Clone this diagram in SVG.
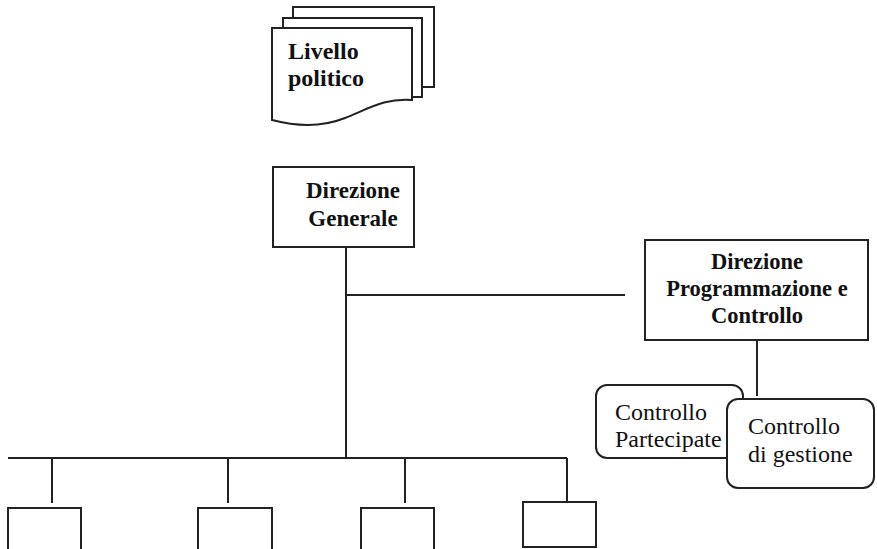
<svg xmlns="http://www.w3.org/2000/svg" width="877" height="549" viewBox="0 0 877 549">
  <style>
    .box { fill: #fff; stroke: #222; stroke-width: 2; }
    .line { fill: none; stroke: #222; stroke-width: 2; }
    .bold { font-family: "Liberation Serif", "Times New Roman", serif; font-weight: bold; fill: #111; }
    .reg { font-family: "Liberation Serif", "Times New Roman", serif; fill: #111; }
  </style>
  <rect width="877" height="549" fill="#fff"/>

  <!-- connectors -->
  <g id="connectors" class="line">
    <line x1="346" y1="247" x2="346" y2="458"/>
    <line x1="346" y1="295" x2="625" y2="295"/>
    <line x1="757" y1="340" x2="757" y2="396"/>
    <line x1="8" y1="458" x2="567" y2="458"/>
    <line x1="52" y1="458" x2="52" y2="503"/>
    <line x1="228" y1="458" x2="228" y2="503"/>
    <line x1="405" y1="458" x2="405" y2="503"/>
    <line x1="567" y1="458" x2="567" y2="502"/>
  </g>

  <!-- stacked multi-document node -->
  <g id="livello-politico">
    <path class="box" d="M293,7 H434 V87 H422 V18 H293 Z"/>
    <path class="box" d="M283,18 H422 V97 H412 V28 H283 Z"/>
    <path class="box" d="M272,28 H412 V100 C385,98 370,108 345,118 C320,128 295,126 272,120 Z"/>
    <text class="bold" font-size="24" x="288" y="59">Livello</text>
    <text class="bold" font-size="24" x="288" y="86">politico</text>
  </g>

  <g id="direzione-generale">
    <rect class="box" x="273" y="167" width="141" height="80"/>
    <text class="bold" font-size="23" x="353" y="198" text-anchor="middle">Direzione</text>
    <text class="bold" font-size="23" x="353" y="226" text-anchor="middle">Generale</text>
  </g>

  <g id="direzione-programmazione">
    <rect class="box" x="645" y="240" width="223" height="100"/>
    <text class="bold" font-size="22.5" x="757" y="269" text-anchor="middle">Direzione</text>
    <text class="bold" font-size="22.5" x="757" y="296" text-anchor="middle">Programmazione e</text>
    <text class="bold" font-size="22.5" x="757" y="323" text-anchor="middle">Controllo</text>
  </g>

  <g id="controllo-partecipate">
    <rect class="box" x="596" y="385" width="147" height="73" rx="11"/>
    <text class="reg" font-size="24" x="615" y="420">Controllo</text>
    <text class="reg" font-size="24" x="615" y="447">Partecipate</text>
  </g>

  <g id="controllo-gestione">
    <rect class="box" x="727" y="399" width="147" height="89" rx="11"/>
    <text class="reg" font-size="24" x="748" y="434">Controllo</text>
    <text class="reg" font-size="24" x="748" y="462">di gestione</text>
  </g>

  <g id="unit-1"><rect class="box" x="8" y="508" width="73" height="50"/></g>
  <g id="unit-2"><rect class="box" x="198" y="508" width="74" height="50"/></g>
  <g id="unit-3"><rect class="box" x="361" y="508" width="73" height="50"/></g>
  <g id="unit-4"><rect class="box" x="523" y="502" width="73" height="45"/></g>
</svg>
